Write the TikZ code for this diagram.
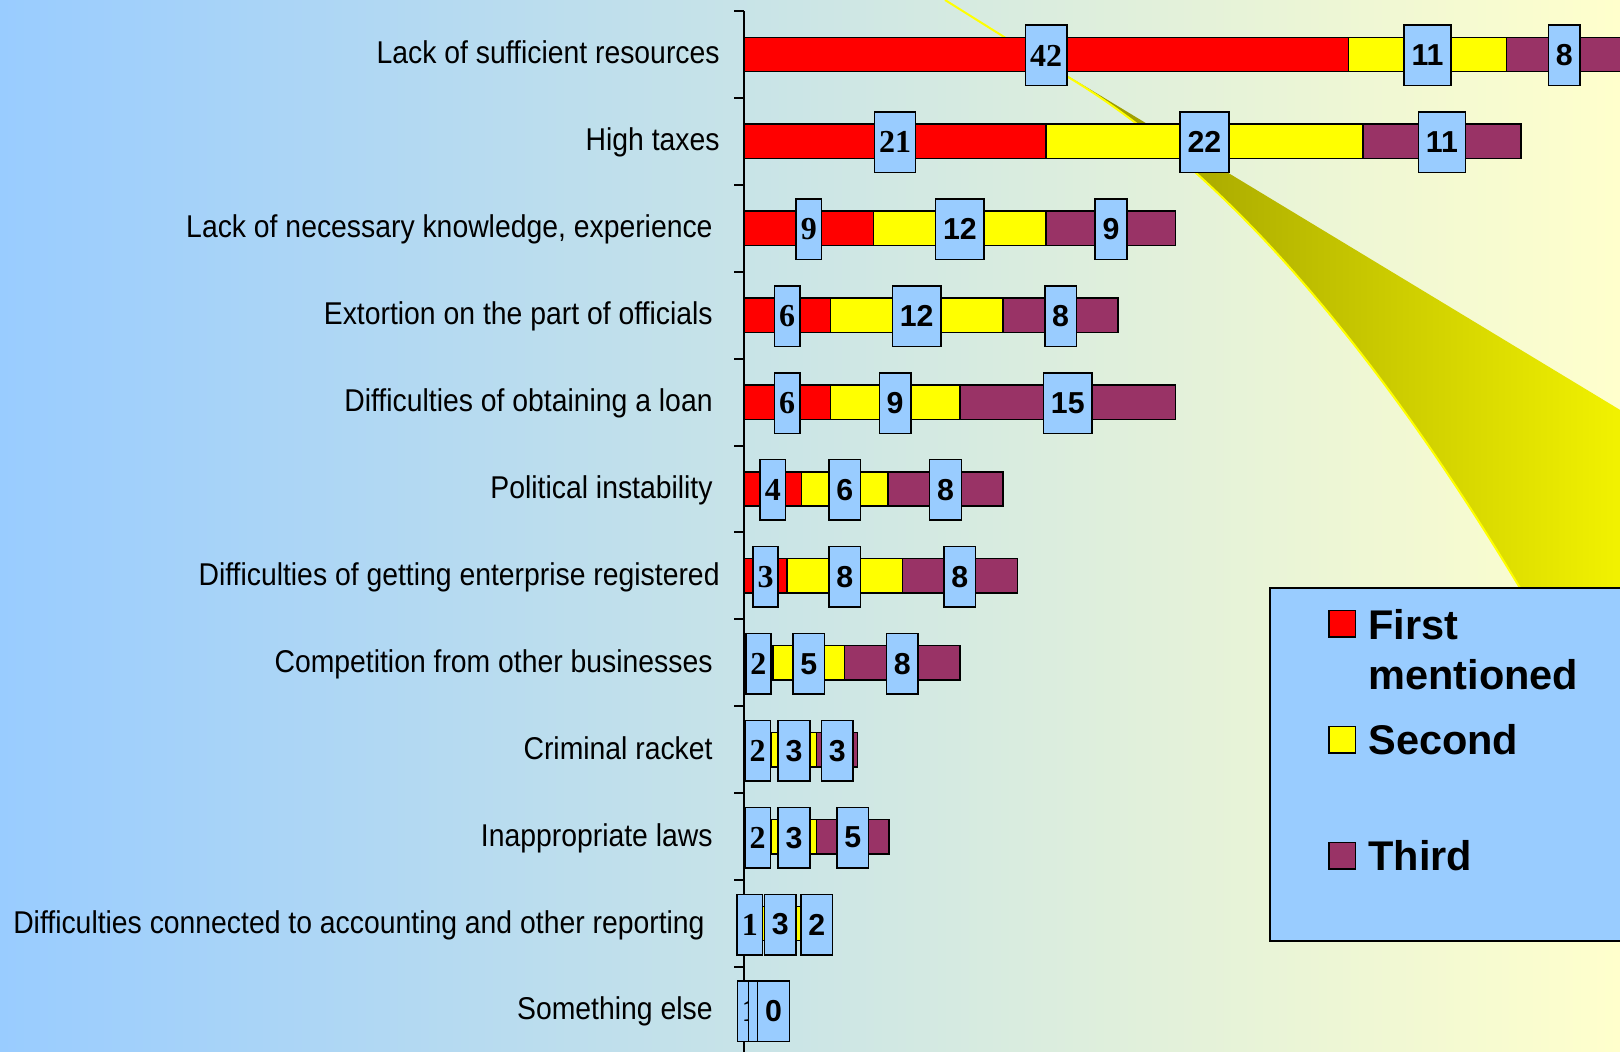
\documentclass[tikz,border=0pt]{standalone}
\usepackage{fontspec}
\usepackage{tikz}
\newfontfamily\narrowsans[FakeStretch=0.90]{Liberation Sans}
\newfontfamily\arialsans{Liberation Sans}
\newfontfamily\timesserif{Liberation Serif}
\newcommand\catfont{\narrowsans\fontsize{15.75}{18}\selectfont}
\newcommand\valsansfont{\arialsans\bfseries\fontsize{15.15}{18}\selectfont}
\newcommand\valseriffont{\timesserif\bfseries\fontsize{16}{18}\selectfont}
\newcommand\keyfont{\arialsans\bfseries\fontsize{20.75}{25}\selectfont}
\definecolor{bgblue}{RGB}{153,204,255}
\definecolor{bgyellow}{RGB}{255,255,204}
\definecolor{barred}{RGB}{255,0,0}
\definecolor{baryellow}{RGB}{255,255,0}
\definecolor{barpurple}{RGB}{153,51,102}
\definecolor{lblblue}{RGB}{153,204,255}
\definecolor{beamdark}{RGB}{150,150,0}
\definecolor{beamlight}{RGB}{245,245,0}

\begin{document}
\begin{tikzpicture}[x=0.5pt, y=-0.5pt,
    bar/.style={draw=black, line width=0.75pt},
    lblsans/.style={draw=black, line width=0.75pt, fill=lblblue, inner xsep=3.7pt, inner ysep=0pt,
      minimum height=30.25pt, outer sep=0pt, font=\valsansfont},
    lblserif/.style={lblsans, inner xsep=2.3pt, font=\valseriffont},
    catlabel/.style={anchor=base east, inner sep=0pt, font=\catfont},
    keybox/.style={draw=black, line width=0.75pt, minimum size=13.25pt, inner sep=0pt},
    keytext/.style={anchor=base west, inner sep=0pt, font=\keyfont}]
  % Bildbereich
  \clip (0,0) rectangle (1620,1052);
  % Hintergrund
  \shade[left color=bgblue, right color=bgyellow] (0,0) rectangle (1620,1052);
  % Lichtkegel
  \shade[left color=beamdark, right color=beamlight] (1068,76) .. controls (1218.7,167.4) and (1369.3,337.4) .. (1520,588)
    -- (1540,630) -- (1640,630) -- (1640,422) -- cycle;
  \draw[baryellow, line width=1pt] (945,0) -- (1068,77) .. controls (1218.7,167.4) and (1369.3,337.4) .. (1520,588) -- (1540,630);
  % Achse zeichnen
  \draw[line width=1pt] (744,11) -- (744,1052);
  \foreach \k in {0,...,12} \draw[line width=1pt] (734,{11.05+86.9*\k}) -- (744,{11.05+86.9*\k});
  % Balken und Werte
  \foreach \i/\cat/\rx/\a/\b/\c/\la/\lb/\lc in {
      0/{Lack of sufficient resources}/720/42/11/8/42/11/8,
      1/{High taxes}/720/21/22/11/21/22/11,
      2/{Lack of necessary knowledge, experience}/713/9/12/9/9/12/9,
      3/{Extortion on the part of officials}/713/6/12/8/6/12/8,
      4/{Difficulties of obtaining a loan}/713/6/9/15/6/9/15,
      5/{Political instability}/713/4/6/8/4/6/8,
      6/{Difficulties of getting enterprise registered}/720/3/8/8/3/8/8,
      7/{Competition from other businesses}/713/2/5/8/2/5/8,
      8/{Criminal racket}/713/1.9/3.15/2.85/2/3/3,
      9/{Inappropriate laws}/713/1.9/3.15/5.03/2/3/5,
      10/{Difficulties connected to accounting and other reporting}/705/0.8/3.45/1.6/1/3/2,
      11/{Something else}/713/0.83/1.19/0.06/1/{\phantom{1}}/0}{
    \pgfmathsetmacro\yc{54.5+86.9*\i}
    \pgfmathsetmacro\xa{744+14.39*\a}
    \pgfmathsetmacro\xb{\xa+14.39*\b}
    \pgfmathsetmacro\xc{\xb+14.39*\c}
    \node[catlabel] (cat-\i) at (\rx,{\yc+9.5}) {\cat};
    \draw[bar, fill=barred] (744,{\yc-17.2}) rectangle (\xa,{\yc+17.2});
    \draw[bar, fill=baryellow] (\xa,{\yc-17.2}) rectangle (\xb,{\yc+17.2});
    \draw[bar, fill=barpurple] (\xb,{\yc-17.2}) rectangle (\xc,{\yc+17.2});
    \node[lblserif] (val-\i-a) at ({(744+\xa)/2},{\yc+1}) {\la};
    \node[lblsans] (val-\i-b) at ({(\xa+\xb)/2},{\yc+1}) {\lb};
    \node[lblsans] (val-\i-c) at ({(\xb+\xc)/2},{\yc+1}) {\lc};
  }
  % Legende
  \draw[fill=lblblue, line width=0.75pt] (1270,588) rectangle (1640,941);
  \node[keybox, fill=barred] (key-first) at (1342,623.5) {};
  \node[keybox, fill=baryellow] (key-second) at (1342,739.5) {};
  \node[keybox, fill=barpurple] (key-third) at (1342,855.5) {};
  \node[keytext] (txt-first) at (1368,639) {First};
  \node[keytext] (txt-mentioned) at (1368,689) {mentioned};
  \node[keytext] (txt-second) at (1368,754) {Second};
  \node[keytext] (txt-third) at (1368,870) {Third};
\end{tikzpicture}
\end{document}
